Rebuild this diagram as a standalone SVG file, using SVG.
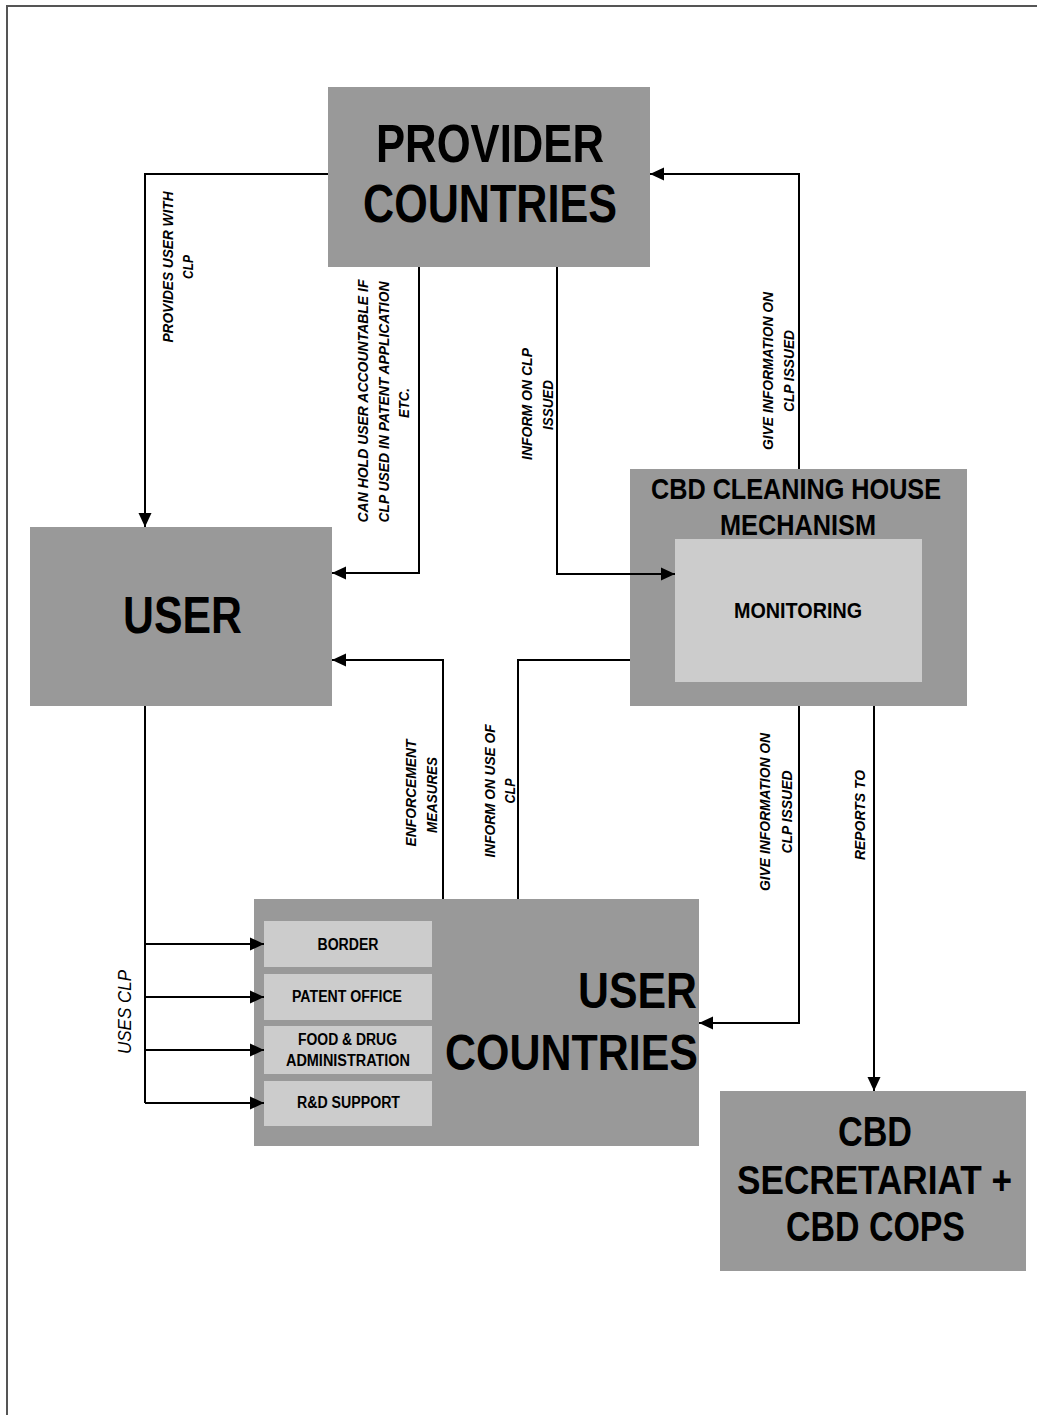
<svg xmlns="http://www.w3.org/2000/svg" width="1037" height="1415" viewBox="0 0 1037 1415">
<defs>
<style>
.box{fill:#999999;}
.inner{fill:#cccccc;}
.t{font-family:"Liberation Sans Narrow","Liberation Sans",Arial,sans-serif;font-weight:bold;fill:#000;text-anchor:middle;}
.lbl{font-family:"Liberation Sans Narrow","Liberation Sans",Arial,sans-serif;font-weight:bold;font-style:italic;font-size:14px;fill:#000;text-anchor:middle;}
.lbl2{font-family:"Liberation Sans Narrow","Liberation Sans",Arial,sans-serif;font-style:italic;font-size:19px;fill:#000;text-anchor:middle;}
.c{fill:none;stroke:#000;stroke-width:2;}
</style>
<marker id="ah" markerUnits="userSpaceOnUse" markerWidth="16" markerHeight="16" viewBox="0 0 16 16" refX="15" refY="8" orient="auto">
<path d="M1,1.5 L15,8 L1,14.5 Z" fill="#000"/>
</marker>
</defs>
<rect x="0" y="0" width="1037" height="1415" fill="#fff"/>
<path d="M7,1415 L7,6 L1037,6" fill="none" stroke="#555" stroke-width="2"/>

<g id="provider">
<rect class="box" x="328" y="87" width="322" height="180"/>
<text class="t" x="490" y="162" font-size="53" textLength="228" lengthAdjust="spacingAndGlyphs">PROVIDER</text>
<text class="t" x="490" y="222" font-size="53" textLength="254" lengthAdjust="spacingAndGlyphs">COUNTRIES</text>
</g>

<g id="user">
<rect class="box" x="30" y="527" width="302" height="179"/>
<text class="t" x="182.5" y="633" font-size="52" textLength="119" lengthAdjust="spacingAndGlyphs">USER</text>
</g>

<g id="cbd-chm">
<rect class="box" x="630" y="469" width="337" height="237"/>
<text class="t" x="796" y="499" font-size="30" textLength="290" lengthAdjust="spacingAndGlyphs">CBD CLEANING HOUSE</text>
<text class="t" x="798" y="535" font-size="30" textLength="156" lengthAdjust="spacingAndGlyphs">MECHANISM</text>
</g>

<g id="monitoring">
<rect class="inner" x="675" y="539" width="247" height="143"/>
<text class="t" x="798" y="618" font-size="22" textLength="128" lengthAdjust="spacingAndGlyphs">MONITORING</text>
</g>

<g id="user-countries">
<rect class="box" x="254" y="899" width="445" height="247"/>
<text class="t" x="637.5" y="1008" font-size="50" textLength="119" lengthAdjust="spacingAndGlyphs">USER</text>
<text class="t" x="571.5" y="1070" font-size="50" textLength="253" lengthAdjust="spacingAndGlyphs">COUNTRIES</text>
</g>

<g id="border">
<rect class="inner" x="264" y="921" width="168" height="46"/>
<text class="t" x="348" y="950" font-size="16" textLength="61" lengthAdjust="spacingAndGlyphs">BORDER</text>
</g>
<g id="patent-office">
<rect class="inner" x="264" y="974" width="168" height="46"/>
<text class="t" x="347" y="1002" font-size="16" textLength="110" lengthAdjust="spacingAndGlyphs">PATENT OFFICE</text>
</g>
<g id="fda">
<rect class="inner" x="264" y="1026" width="168" height="48"/>
<text class="t" x="347.5" y="1045" font-size="16" textLength="99" lengthAdjust="spacingAndGlyphs">FOOD &amp; DRUG</text>
<text class="t" x="348" y="1066" font-size="16" textLength="124" lengthAdjust="spacingAndGlyphs">ADMINISTRATION</text>
</g>
<g id="rd-support">
<rect class="inner" x="264" y="1081" width="168" height="45"/>
<text class="t" x="348.5" y="1108" font-size="16" textLength="103" lengthAdjust="spacingAndGlyphs">R&amp;D SUPPORT</text>
</g>

<g id="cbd-secretariat">
<rect class="box" x="720" y="1091" width="306" height="180"/>
<text class="t" x="875" y="1146" font-size="42" textLength="74" lengthAdjust="spacingAndGlyphs">CBD</text>
<text class="t" x="874.5" y="1194" font-size="40" textLength="275" lengthAdjust="spacingAndGlyphs">SECRETARIAT +</text>
<text class="t" x="875.5" y="1241" font-size="42" textLength="179" lengthAdjust="spacingAndGlyphs">CBD COPS</text>
</g>

<g id="connectors">
<path class="c" d="M328,174 L145,174 L145,527" marker-end="url(#ah)"/>
<path class="c" d="M419,267 L419,573 L332,573" marker-end="url(#ah)"/>
<path class="c" d="M557,267 L557,574 L675,574" marker-end="url(#ah)"/>
<path class="c" d="M799,469 L799,174 L650,174" marker-end="url(#ah)"/>
<path class="c" d="M443,899 L443,660 L332,660" marker-end="url(#ah)"/>
<path class="c" d="M518,899 L518,660 L630,660"/>
<path class="c" d="M799,706 L799,1023 L699,1023" marker-end="url(#ah)"/>
<path class="c" d="M874,706 L874,1091" marker-end="url(#ah)"/>
<path class="c" d="M145,706 L145,1103"/>
<path class="c" d="M145,944 L264,944" marker-end="url(#ah)"/>
<path class="c" d="M145,997 L264,997" marker-end="url(#ah)"/>
<path class="c" d="M145,1050 L264,1050" marker-end="url(#ah)"/>
<path class="c" d="M145,1103 L264,1103" marker-end="url(#ah)"/>

<text class="lbl" transform="translate(173,267) rotate(-90)" textLength="151" lengthAdjust="spacingAndGlyphs">PROVIDES USER WITH</text>
<text class="lbl" transform="translate(193,267) rotate(-90)" textLength="24" lengthAdjust="spacingAndGlyphs">CLP</text>

<text class="lbl" transform="translate(368,401) rotate(-90)" textLength="243" lengthAdjust="spacingAndGlyphs">CAN HOLD USER ACCOUNTABLE IF</text>
<text class="lbl" transform="translate(389,402) rotate(-90)" textLength="241" lengthAdjust="spacingAndGlyphs">CLP USED IN PATENT APPLICATION</text>
<text class="lbl" transform="translate(409,403) rotate(-90)" textLength="30" lengthAdjust="spacingAndGlyphs">ETC.</text>

<text class="lbl" transform="translate(532,404) rotate(-90)" textLength="112" lengthAdjust="spacingAndGlyphs">INFORM ON CLP</text>
<text class="lbl" transform="translate(553,405) rotate(-90)" textLength="50" lengthAdjust="spacingAndGlyphs">ISSUED</text>

<text class="lbl" transform="translate(773,371) rotate(-90)" textLength="158" lengthAdjust="spacingAndGlyphs">GIVE INFORMATION ON</text>
<text class="lbl" transform="translate(794,371) rotate(-90)" textLength="82" lengthAdjust="spacingAndGlyphs">CLP ISSUED</text>

<text class="lbl" transform="translate(416,793) rotate(-90)" textLength="107" lengthAdjust="spacingAndGlyphs">ENFORCEMENT</text>
<text class="lbl" transform="translate(437,795) rotate(-90)" textLength="76" lengthAdjust="spacingAndGlyphs">MEASURES</text>

<text class="lbl" transform="translate(495,791) rotate(-90)" textLength="133" lengthAdjust="spacingAndGlyphs">INFORM ON USE OF</text>
<text class="lbl" transform="translate(515,791) rotate(-90)" textLength="25" lengthAdjust="spacingAndGlyphs">CLP</text>

<text class="lbl" transform="translate(770,812) rotate(-90)" textLength="158" lengthAdjust="spacingAndGlyphs">GIVE INFORMATION ON</text>
<text class="lbl" transform="translate(792,812) rotate(-90)" textLength="83" lengthAdjust="spacingAndGlyphs">CLP ISSUED</text>

<text class="lbl" transform="translate(865,815) rotate(-90)" textLength="90" lengthAdjust="spacingAndGlyphs">REPORTS TO</text>

<text class="lbl2" transform="translate(131,1012) rotate(-90)" textLength="84" lengthAdjust="spacingAndGlyphs">USES CLP</text>
</g>
</svg>
